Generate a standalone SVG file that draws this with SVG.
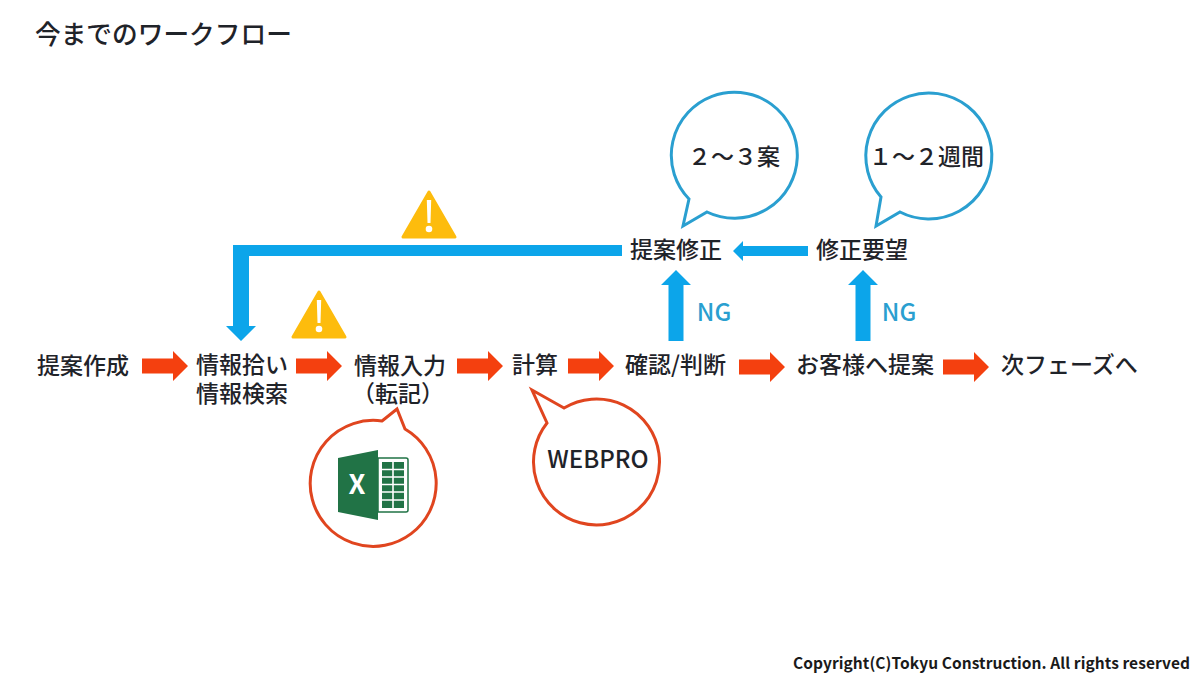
<svg xmlns="http://www.w3.org/2000/svg" width="1200" height="698" viewBox="0 0 1200 698">
  <style>
    text { font-family: "Noto Sans CJK JP", "Noto Sans", sans-serif; fill: #1f2329; }
    .label { font-size: 23px; font-weight: 500; }
    .mid { text-anchor: middle; }
    .title { font-size: 25.7px; font-weight: 500; }
    .ng { font-size: 24px; fill: #2a9fd0; font-weight: 500; text-anchor: middle; }
    .copy { font-size: 15.5px; font-weight: 700; fill: #1a1a1a; }
    .red-flow { fill: #f4400f; }
    .blue-flow { fill: #0ca5ea; }
    .warn { fill: #fdbc0d; stroke: #fdbc0d; stroke-width: 3; stroke-linejoin: round; }
    .warn-mark { fill: #fff; }
    .bubble-red { fill: #fff; stroke: #e0451f; stroke-width: 3; stroke-linejoin: miter; }
    .bubble-blue { fill: #fff; stroke: #2a9fd0; stroke-width: 3; stroke-linejoin: miter; }
  </style>
  <defs>
    <path id="flow-right" d="M0 -7.5H31V-15L46 0L31 15V7.5H0Z"/>
    <path id="flow-up" d="M-7.5 71V15H-15L0 0L15 15H7.5V71Z"/>
    <g id="warning">
      <path class="warn" d="M0 2L26 47H-26Z"/>
      <path class="warn-mark" d="M-2.2 10H2.2L1.5 33H-1.5Z"/>
      <circle class="warn-mark" cx="0" cy="39" r="3.3"/>
    </g>
  </defs>
  <rect width="1200" height="698" fill="#fff"/>

  <text class="title" x="35" y="43.5">今までのワークフロー</text>

  <g id="connectors">
    <g class="red-flow">
      <use href="#flow-right" x="142" y="366"/>
      <use href="#flow-right" x="296" y="366"/>
      <use href="#flow-right" x="457" y="366"/>
      <use href="#flow-right" x="568" y="366"/>
      <use href="#flow-right" x="739" y="367"/>
      <use href="#flow-right" x="943" y="367"/>
    </g>
    <g class="blue-flow">
      <use href="#flow-up" x="676" y="270"/>
      <use href="#flow-up" x="863" y="270"/>
      <path d="M808 246H743V241L733 251L743 261V256H808Z"/>
      <path d="M622 245H233V326H226L241 341L256 326H249V256H622Z"/>
    </g>
  </g>

  <g id="warning-top"><use href="#warning" x="429" y="190"/></g>
  <g id="warning-input"><use href="#warning" x="319" y="290"/></g>

  <g id="node-create"><text class="label" x="37" y="374">提案作成</text></g>
  <g id="node-search">
    <text class="label" x="196" y="373">情報拾い</text>
    <text class="label" x="196" y="402">情報検索</text>
  </g>
  <g id="node-input">
    <text class="label" x="354" y="374">情報入力</text>
    <text class="label mid" x="398" y="402">（転記）</text>
  </g>
  <g id="node-calc"><text class="label" x="512" y="373">計算</text></g>
  <g id="node-check"><text class="label" x="625" y="373">確認/判断</text></g>
  <g id="node-propose"><text class="label" x="796" y="373">お客様へ提案</text></g>
  <g id="node-next"><text class="label" x="1001" y="373">次フェーズへ</text></g>
  <g id="node-revise"><text class="label" x="630" y="258">提案修正</text></g>
  <g id="node-request"><text class="label" x="816" y="258">修正要望</text></g>

  <g id="label-ng-left"><text class="ng" x="714" y="321">NG</text></g>
  <g id="label-ng-right"><text class="ng" x="899" y="321">NG</text></g>

  <g id="bubble-excel">
    <path class="bubble-red" d="M382 421L397 409L405 429A63 63 0 1 1 382 421Z"/>
    <path d="M378 458H406Q408 458 408 460V510Q408 512 406 512H378Z" fill="#fff" stroke="#217346" stroke-width="1.5"/>
    <path d="M382 462H404V508H382Z" fill="#217346"/>
    <path d="M393 462V508M382 469.5H404M382 477H404M382 484.5H404M382 492H404M382 500H404" stroke="#fff" stroke-width="1.6" fill="none"/>
    <path d="M338 458L378 450V520L338 512Z" fill="#217346"/>
    <text x="357" y="494" text-anchor="middle" style="font-size:27px;font-weight:700;fill:#fff">X</text>
  </g>

  <g id="bubble-webpro">
    <path class="bubble-red" d="M564 408L532 390L547 423A63 63 0 1 0 564 408Z"/>
    <text class="mid" x="598" y="468" style="font-size:24px;font-weight:500">WEBPRO</text>
  </g>

  <g id="bubble-options">
    <path class="bubble-blue" d="M689 199L683 226L707 212A63 63 0 1 0 689 199Z"/>
    <text class="label" x="688" y="165" style="font-size:23px">２～３案</text>
  </g>

  <g id="bubble-period">
    <path class="bubble-blue" d="M881 197L876 226L900 212A63 63 0 1 0 881 197Z"/>
    <text class="label" x="869" y="165">１～２週間</text>
  </g>

  <text class="copy" x="793" y="669" textLength="397" lengthAdjust="spacing">Copyright(C)Tokyu Construction. All rights reserved</text>
</svg>
